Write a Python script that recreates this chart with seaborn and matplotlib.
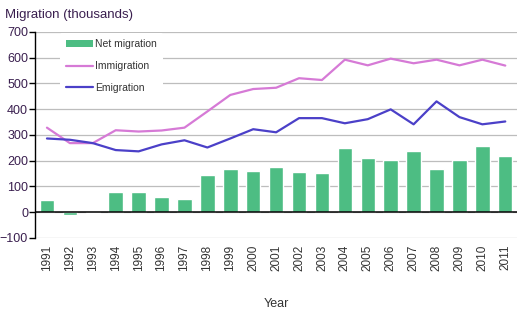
import numpy as np
import pandas as pd
import matplotlib
matplotlib.use("Agg")
import matplotlib.pyplot as plt
import seaborn as sns
from matplotlib.patches import Patch
from matplotlib.lines import Line2D

years = [str(y) for y in range(1991, 2012)]
net_migration = [47, -13, -4, 78, 78, 59, 51, 143, 166, 159, 175, 155, 151, 248, 209, 201, 236, 166, 201, 255, 217]
immigration = [328, 268, 268, 318, 313, 317, 328, 391, 455, 478, 483, 520, 513, 592, 570, 596, 578, 592, 570, 592, 569]
emigration = [286, 281, 268, 241, 236, 263, 279, 251, 286, 322, 310, 365, 365, 345, 361, 399, 341, 430, 369, 341, 352]

GREEN = "#4DBD83"
PINK = "#D67AD6"
BLUE = "#4B40C8"
PURPLE_TXT = "#3A1F4F"

sns.set_theme(style="white")
plt.rcParams["font.family"] = ["Liberation Sans", "DejaVu Sans"]

df = pd.DataFrame({"year": years, "net": net_migration,
                   "imm": immigration, "emi": emigration})
df["pos"] = np.arange(len(years))

fig = plt.figure(figsize=(5.31, 3.25), dpi=100)
ax = fig.add_axes([0.066, 0.268, 0.908, 0.634])

# horizontal gridlines every 100
for v in range(-100, 701, 100):
    ax.axhline(v, color="#BDBDBD", lw=0.9, zorder=0)

sns.barplot(data=df, x="year", y="net", color=GREEN, saturation=1,
            width=0.63, ax=ax, zorder=2)
sns.lineplot(data=df, x="pos", y="imm", color=PINK, lw=1.6, ax=ax, zorder=3)
sns.lineplot(data=df, x="pos", y="emi", color=BLUE, lw=1.6, ax=ax, zorder=3)

ax.axhline(0, color="black", lw=1.1, zorder=4)

ax.set_xlim(-0.52, len(years) - 0.48)
ax.set_ylim(-100, 700)
ax.set_yticks(range(-100, 701, 100))
ax.set_xticks(df["pos"])
ax.set_xticklabels(years, rotation=90, fontsize=8.5, color="#333333")
ax.tick_params(axis="y", labelsize=9, labelcolor=PURPLE_TXT, color="black",
               length=4, width=1, left=True, direction="out", pad=1)
ax.tick_params(axis="x", length=0, pad=5)

for side in ["top", "right", "bottom"]:
    ax.spines[side].set_visible(False)
ax.spines["left"].set_color("black")
ax.spines["left"].set_linewidth(1)

ax.set_ylabel("")
ax.set_xlabel("Year", fontsize=9, color="#333333", labelpad=19)

fig.text(0.009, 0.955, "Migration (thousands)", fontsize=9.5,
         color=PURPLE_TXT, ha="left", va="center")

handles = [Patch(facecolor=GREEN, edgecolor="none"),
           Line2D([], [], color=PINK, lw=1.6),
           Line2D([], [], color=BLUE, lw=1.6)]
leg = ax.legend(handles, ["Net migration", "Immigration", "Emigration"],
                loc="upper left", bbox_to_anchor=(0.04, 1.02),
                frameon=True, fontsize=7.5, handlelength=2.6,
                handleheight=0.7, handletextpad=0.2, labelspacing=1.15,
                borderpad=0.6)
leg.get_frame().set_facecolor("white")
leg.get_frame().set_edgecolor("none")
leg.get_frame().set_alpha(1)
for t in leg.get_texts():
    t.set_color("#333333")

fig.savefig("out.png", dpi=100)
